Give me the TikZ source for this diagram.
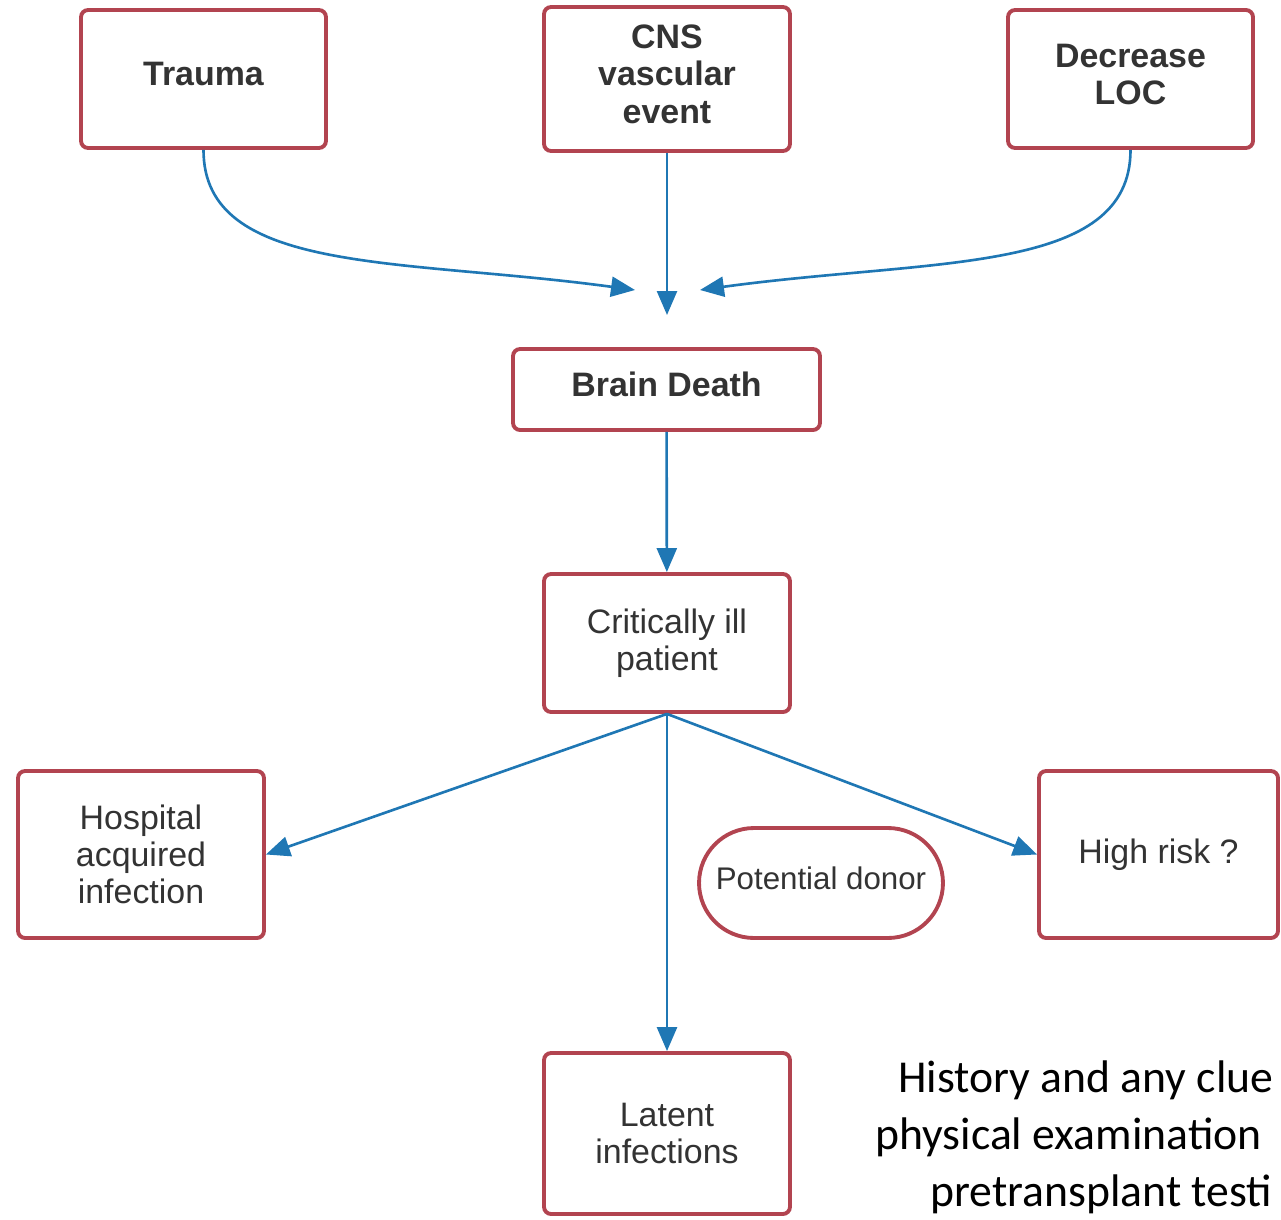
\documentclass[tikz,border=0pt]{standalone}
\usepackage{fontspec}
\setmainfont{Liberation Sans}
\newfontfamily\notefont{Carlito}
\usetikzlibrary{arrows.meta, positioning}
\usepackage{xcolor}
\definecolor{boxred}{RGB}{178,68,80}
\definecolor{flowblue}{RGB}{31,119,180}
\definecolor{txtgray}{RGB}{51,51,51}

\begin{document}
\begin{tikzpicture}[
    x=0.02cm, y=-0.02cm,
    box node/.style={rectangle, rounded corners=4pt, draw=boxred, line width=2.2pt, fill=white, text=txtgray, align=center, inner sep=0pt, font=\fontsize{19.3}{21.2}\selectfont},
    raised/.style={execute at end node={\rule[-0.2cm]{0pt}{0.2cm}}},
    cause node/.style={box node, raised, font=\fontsize{19.3}{21.2}\selectfont\bfseries},
    pill node/.style={box node, raised, rounded corners=1.1cm, font=\fontsize{17.8}{21.2}\selectfont},
    flow/.style={draw=flowblue, line width=1.5pt, -{Triangle[length=0.48cm, width=0.4cm]}},
    note/.style={anchor=base west, inner sep=0pt, font=\notefont\fontsize{26}{32}\selectfont}
]
    \useasboundingbox (0,0) rectangle (1281,1220);

    % --- Causes ---
    \node[cause node, minimum width=4.9cm, minimum height=2.76cm] (trauma) at (203.5,79) {Trauma};
    \node[cause node, minimum width=4.92cm, minimum height=2.88cm] (cns) at (667,79) {CNS\\vascular\\event};
    \node[cause node, minimum width=4.9cm, minimum height=2.76cm] (loc) at (1130.5,79) {Decrease\\LOC};

    \coordinate (meetL) at (635,290);
    \coordinate (meetM) at (667,315);
    \coordinate (meetR) at (700,290);

    \draw[flow] (trauma.south) .. controls (203.5,275) and (400,258) .. (meetL);
    \draw[flow] (cns) -- (meetM);
    \draw[flow] (loc.south) .. controls (1130.5,275) and (934,258) .. (meetR);

    % --- Brain death ---
    \node[cause node, minimum width=6.14cm, minimum height=1.62cm] (brain) at (666.5,389.5) {Brain Death};
    \node[box node, minimum width=4.92cm, minimum height=2.76cm] (ill) at (667,643) {Critically ill\\patient};

    \draw[flow] (brain) -- (ill);

    % --- Donor evaluation ---
    \node[box node, minimum width=4.92cm, minimum height=3.34cm] (hospital) at (141,854.5) {Hospital\\acquired\\infection};
    \node[pill node, minimum width=4.88cm, minimum height=2.2cm] (donor) at (821,883) {Potential donor};
    \node[box node, minimum width=4.78cm, minimum height=3.34cm] (risk) at (1158.5,854.5) {High risk ?};
    \node[box node, minimum width=4.92cm, minimum height=3.22cm] (latent) at (667,1133.5) {Latent\\infections};

    \draw[flow] (ill.south) -- (hospital.east);
    \draw[flow] (ill.south) -- (risk.west);
    \draw[flow] (ill) -- (latent);

    \node[note] (hist1) at (898,1092) {History and any clue};
    \node[note] (hist2) at (875,1149) {physical examination};
    \node[note] (hist3) at (930,1206) {pretransplant testi};
\end{tikzpicture}
\end{document}
